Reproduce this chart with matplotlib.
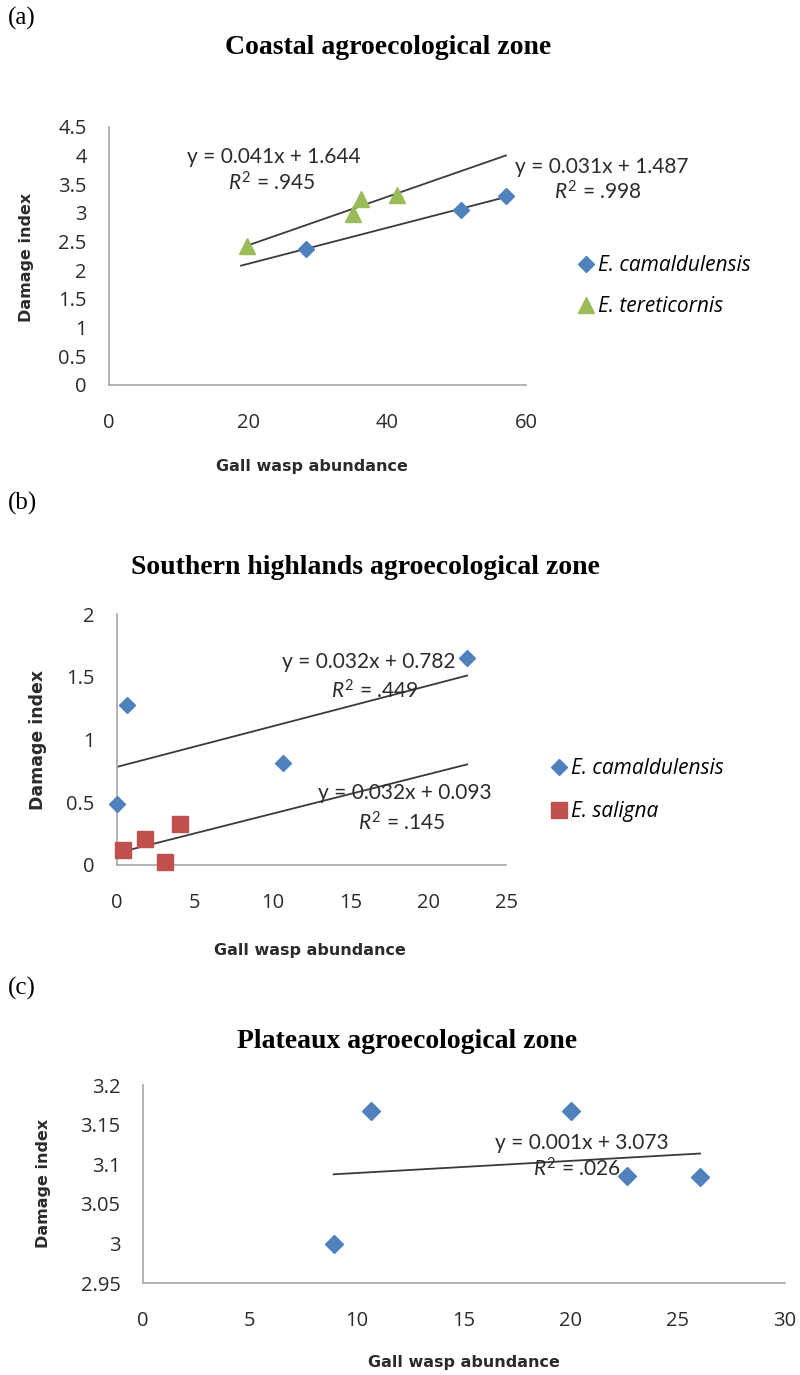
import numpy as np
import matplotlib
matplotlib.use("Agg")
import matplotlib.pyplot as plt
from matplotlib.ticker import FuncFormatter

plt.rcParams['mathtext.fontset'] = 'custom'
plt.rcParams['mathtext.rm'] = 'Lato'
plt.rcParams['mathtext.it'] = 'Lato:italic'

# ---------------- data ----------------
# (a) Coastal
a_cam_x = [28.3, 50.7, 57.1]
a_cam_y = [2.38, 3.05, 3.30]
a_ter_x = [19.9, 35.1, 36.2, 41.5]
a_ter_y = [2.43, 2.98, 3.24, 3.32]
a_cam_trend_range = [19.0, 57.1]
a_ter_trend_range = [19.9, 57.1]
a_cam_eq = ["y = 0.031x + 1.487", ".998"]
a_ter_eq = ["y = 0.041x + 1.644", ".945"]

# (b) Southern highlands
b_cam_x = [0.0, 0.65, 10.7, 22.5]
b_cam_y = [0.49, 1.275, 0.81, 1.647]
b_sal_x = [0.4, 1.77, 3.1, 4.08]
b_sal_y = [0.12, 0.205, 0.02, 0.33]
b_trend_range = [0.0, 22.5]
b_cam_eq = ["y = 0.032x + 0.782", ".449"]
b_sal_eq = ["y = 0.032x + 0.093", ".145"]

# (c) Plateaux
c_cam_x = [8.93, 10.66, 20.0, 22.64, 26.05]
c_cam_y = [3.0, 3.1676, 3.1676, 3.085, 3.0836]
c_trend_range = [8.93, 26.05]
c_cam_eq = ["y = 0.001x + 3.073", ".026"]

titles = ["Coastal agroecological zone",
          "Southern highlands agroecological zone",
          "Plateaux agroecological zone"]
panel_labels = ["(a)", "(b)", "(c)"]
xlabel = "Gall wasp abundance"
ylabel = "Damage index"

BLUE = "#4F81BD"
GREEN = "#9BBB59"
RED = "#C0504D"
LINE = "#3a3a3a"
AXC = "#a6a6a6"
TXT = "#2b2b2b"
TICKFONT = "Open Sans"
EQFONT = "Lato"

W, H = 800, 1375
fig = plt.figure(figsize=(W / 100, H / 100), dpi=100)


def rect(x0, x1, y_bot, y_top):
    return [x0 / W, 1 - y_bot / H, (x1 - x0) / W, (y_bot - y_top) / H]


def style(ax, xlim, ylim, xticks, yticks):
    ax.set_xlim(*xlim)
    ax.set_ylim(*ylim)
    ax.set_xticks(xticks)
    ax.set_yticks(yticks)
    fmt = FuncFormatter(lambda v, p: ("%.2f" % v).rstrip('0').rstrip('.'))
    ax.yaxis.set_major_formatter(fmt)
    ax.xaxis.set_major_formatter(fmt)
    for s in ['top', 'right']:
        ax.spines[s].set_visible(False)
    for s in ['left', 'bottom']:
        ax.spines[s].set_color(AXC)
        ax.spines[s].set_linewidth(1.2)
    ax.tick_params(axis='both', length=0, labelsize=14.5, labelcolor=TXT)
    ax.tick_params(axis='y', pad=16)
    ax.tick_params(axis='x', pad=20)
    for lab in ax.get_xticklabels() + ax.get_yticklabels():
        lab.set_fontfamily(TICKFONT)
    ax.patch.set_alpha(0)


def trend(ax, x, y, rng):
    k, b = np.polyfit(x, y, 1)
    xs = np.array(rng)
    ax.plot(xs, k * xs + b, color=LINE, lw=1.3, zorder=2)


def eq(ax, xy_eq, xy_r, e):
    ax.text(*xy_eq, e[0], fontsize=15, family=EQFONT, color=TXT, ha='left', va='center')
    ax.text(*xy_r, r"$R^2$ = " + e[1], fontsize=15, family=EQFONT, color=TXT, ha='left', va='center')


def deco(ax, title_xy, label_xy, xl_xy, yl_xy, title, plabel, ylsize=11.5):
    fig.text(*title_xy, title, family="Liberation Serif", fontweight='bold', fontsize=20,
             ha='center', va='center', color='black')
    fig.text(*label_xy, plabel, family="Liberation Serif", fontsize=18, ha='left', va='center')
    fig.text(xl_xy[0] / W, 1 - xl_xy[1] / H, xlabel, family="DejaVu Sans", fontweight='bold',
             fontsize=11.5, ha='center', va='center', color=TXT)
    fig.text(yl_xy[0] / W, 1 - yl_xy[1] / H, ylabel, family="DejaVu Sans", fontweight='bold',
             fontsize=ylsize, ha='center', va='center', rotation=90, color=TXT)


def legend(ax, handles, labels, x, y, spacing):
    ax.legend(handles, labels, loc='upper left', bbox_to_anchor=(x / W, 1 - y / H),
              bbox_transform=fig.transFigure, frameon=False,
              prop={'family': TICKFONT, 'style': 'italic', 'size': 15},
              handlelength=0.6, handletextpad=0.25, labelspacing=spacing, borderpad=0, borderaxespad=0)


# ---------------- panel (a) ----------------
ax = fig.add_axes(rect(109, 526, 385, 127))
style(ax, (0, 60), (0, 4.5), np.arange(0, 61, 20), np.arange(0, 4.51, 0.5))
trend(ax, a_cam_x, a_cam_y, a_cam_trend_range)
trend(ax, a_ter_x, a_ter_y, a_ter_trend_range)
h1, = ax.plot(a_cam_x, a_cam_y, 'D', color=BLUE, ms=8, ls='none', zorder=3, clip_on=False)
h2, = ax.plot(a_ter_x, a_ter_y, '^', color=GREEN, ms=11, ls='none', zorder=3, clip_on=False)
eq(ax, (11.2, 3.98), (17.1, 3.52), a_ter_eq)
eq(ax, (58.4, 3.80), (64.0, 3.37), a_cam_eq)
legend(ax, [h1, h2], ["E. camaldulensis", "E. tereticornis"], 580, 255, 0.97)
deco(ax, (388 / W, 1 - 47 / H), (8 / W, 1 - 18 / H), (312, 467), (26, 257), titles[0], panel_labels[0])

# ---------------- panel (b) ----------------
ax = fig.add_axes(rect(117, 506, 865, 614))
style(ax, (0, 25), (0, 2), np.arange(0, 26, 5), np.arange(0, 2.01, 0.5))
trend(ax, b_cam_x, b_cam_y, b_trend_range)
trend(ax, b_sal_x, b_sal_y, b_trend_range)
h1, = ax.plot(b_cam_x, b_cam_y, 'D', color=BLUE, ms=8, ls='none', zorder=3, clip_on=False)
h2, = ax.plot(b_sal_x, b_sal_y, 's', color=RED, ms=12, ls='none', zorder=3, clip_on=False)
eq(ax, (10.6, 1.62), (13.74, 1.39), b_cam_eq)
eq(ax, (12.9, 0.574), (15.5, 0.335), b_sal_eq)
legend(ax, [h1, h2], ["E. camaldulensis", "E. saligna"], 553, 758, 1.07)
deco(ax, (365.6 / W, 1 - 568 / H), (8 / W, 1 - 503 / H), (310, 950), (38, 740), titles[1], panel_labels[1], 12.5)

# ---------------- panel (c) ----------------
ax = fig.add_axes(rect(142.6, 784.6, 1283.3, 1085))
style(ax, (0, 30), (2.95, 3.2), np.arange(0, 31, 5), np.arange(2.95, 3.2001, 0.05))
trend(ax, c_cam_x, c_cam_y, c_trend_range)
ax.plot(c_cam_x, c_cam_y, 'D', color=BLUE, ms=9, ls='none', zorder=3, clip_on=False)
eq(ax, (16.47, 3.1273), (18.25, 3.0937), c_cam_eq)
deco(ax, (407 / W, 1 - 1041.7 / H), (8 / W, 1 - 988 / H), (464, 1362), (43.6, 1183), titles[2], panel_labels[2])

fig.savefig("out.png", dpi=100, facecolor='white')
